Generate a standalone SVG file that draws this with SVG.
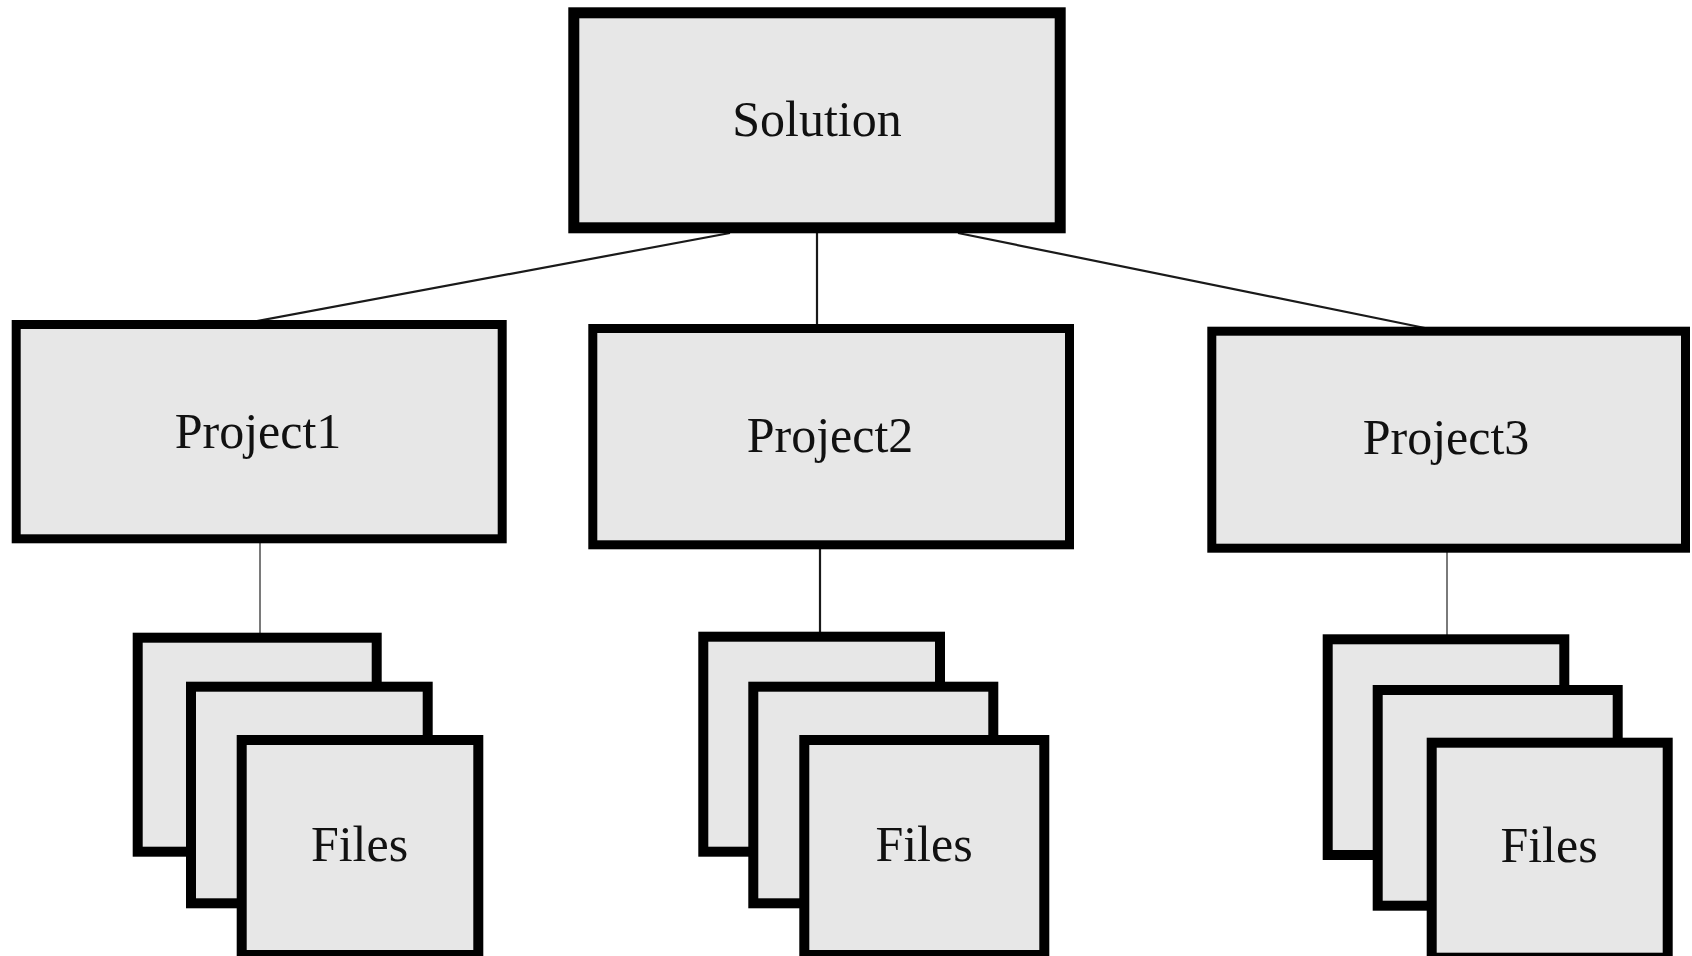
<svg xmlns="http://www.w3.org/2000/svg" width="1692" height="956" viewBox="0 0 1692 956">
<style>
.box{fill:#e7e7e7;stroke:#000;stroke-width:9}
.sol{stroke-width:11}
.card{fill:#e7e7e7;stroke:#000;stroke-width:10}
.lbl{font-family:"Liberation Serif","Times New Roman",serif;font-size:50px;fill:#111;text-anchor:middle}
.dk{stroke:#1a1a1a;stroke-width:2.2;fill:none}
.gr{stroke:#7a7a7a;stroke-width:2;fill:none}
</style>
<rect width="1692" height="956" fill="#fff"/>
<g id="connectors">
<line class="dk" x1="730" y1="233" x2="252" y2="322"/>
<line class="dk" x1="817" y1="233" x2="817" y2="325"/>
<line class="dk" x1="958" y1="233" x2="1425" y2="328"/>
<line class="gr" x1="260" y1="543" x2="260" y2="634"/>
<line class="dk" x1="820" y1="549" x2="820" y2="633"/>
<line class="gr" x1="1447" y1="552" x2="1447" y2="635"/>
</g>
<g id="solution">
<rect class="box sol" x="573.8" y="12.8" width="486.4" height="215"/>
<text class="lbl" x="817" y="136">Solution</text>
</g>
<g id="project1">
<rect class="box" x="16.2" y="324.5" width="486" height="214.3"/>
<text class="lbl" x="258" y="448">Project1</text>
</g>
<g id="project2">
<rect class="box" x="592.8" y="328.5" width="476.7" height="216.3"/>
<text class="lbl" x="830" y="452">Project2</text>
</g>
<g id="project3">
<rect class="box" x="1211.8" y="331.2" width="473.7" height="217"/>
<text class="lbl" x="1446" y="454">Project3</text>
</g>
<g id="files1">
<rect class="card" x="137.7" y="637.7" width="239" height="214"/>
<rect class="card" x="191" y="686.7" width="236.7" height="216.6"/>
<rect class="card" x="241.7" y="740" width="236.6" height="215"/>
<text class="lbl" x="359.5" y="861">Files</text>
</g>
<g id="files2">
<rect class="card" x="703.3" y="636.7" width="236.7" height="215"/>
<rect class="card" x="753.3" y="686.7" width="240" height="216.6"/>
<rect class="card" x="804.3" y="740" width="240" height="215"/>
<text class="lbl" x="924" y="861">Files</text>
</g>
<g id="files3">
<rect class="card" x="1327.7" y="639.3" width="236.6" height="215.7"/>
<rect class="card" x="1377.7" y="690" width="240" height="215.7"/>
<rect class="card" x="1431.7" y="742.7" width="236" height="215"/>
<text class="lbl" x="1549" y="862">Files</text>
</g>
</svg>
